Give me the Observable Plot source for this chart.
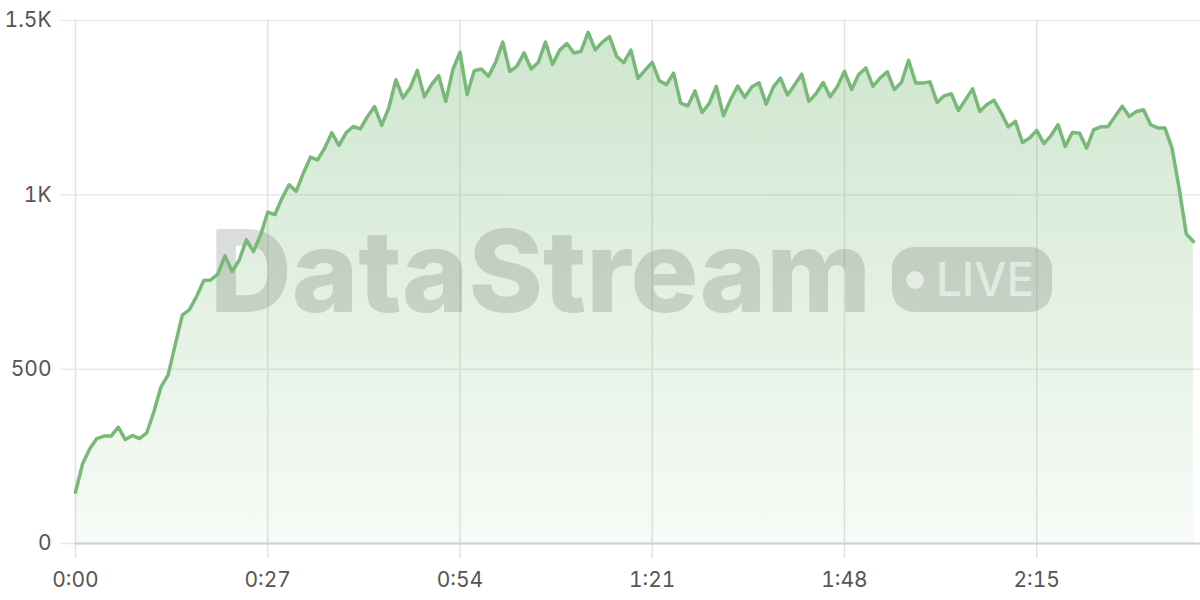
<!DOCTYPE html>
<html>
<head>
<meta charset="utf-8">
<script src="https://cdn.jsdelivr.net/npm/d3@7"></script>
<script src="https://cdn.jsdelivr.net/npm/@observablehq/plot@0.6"></script>
<style>
html, body { margin: 0; padding: 0; background: #fff; }
#chart svg { display: block; }
</style>
</head>
<body>
<div id="chart"></div>
<script>
// One sample per second, starting at 0:00
const values = [
  147, 229, 272, 301, 308, 308, 334, 298, 310, 301,
  317, 377, 449, 483, 569, 655, 671, 708, 754, 756,
  773, 825, 780, 813, 871, 837, 885, 950, 943, 990,
  1029, 1010, 1062, 1108, 1100, 1134, 1178, 1142, 1178, 1196,
  1189, 1224, 1253, 1199, 1249, 1330, 1278, 1307, 1357, 1281,
  1316, 1342, 1268, 1359, 1409, 1287, 1356, 1361, 1340, 1380,
  1438, 1354, 1369, 1407, 1361, 1380, 1438, 1374, 1415, 1434,
  1407, 1412, 1466, 1416, 1438, 1454, 1397, 1379, 1415, 1334,
  1358, 1380, 1327, 1316, 1349, 1263, 1255, 1298, 1236, 1262,
  1311, 1227, 1273, 1312, 1280, 1310, 1321, 1260, 1309, 1335,
  1286, 1316, 1346, 1268, 1290, 1322, 1281, 1311, 1354, 1302,
  1345, 1364, 1311, 1335, 1353, 1302, 1322, 1386, 1321, 1321,
  1324, 1265, 1284, 1290, 1242, 1273, 1304, 1239, 1259, 1271,
  1235, 1195, 1211, 1150, 1163, 1185, 1147, 1170, 1201, 1139,
  1179, 1177, 1134, 1187, 1195, 1195, 1225, 1254, 1225, 1239,
  1244, 1201, 1192, 1192, 1134, 1019, 888, 866
];
const xTicks = [0, 27, 54, 81, 108, 135];
const xTickLabels = ["0:00", "0:27", "0:54", "1:21", "1:48", "2:15"];
const yTicks = [0, 500, 1000, 1500];
const yTickLabels = ["0", "500", "1K", "1.5K"];
const watermarkTitle = "DataStream";
const watermarkBadge = "LIVE";

const data = values.map((v, i) => ({ t: i, v }));
const NS = "http://www.w3.org/2000/svg";
function el(tag, attrs) {
  const e = document.createElementNS(NS, tag);
  for (const k in attrs) e.setAttribute(k, attrs[k]);
  return e;
}

function gradientDefs() {
  const defs = el("defs", {});
  const lg = el("linearGradient", { id: "areaGrad", x1: 0, y1: 0, x2: 0, y2: 1 });
  lg.appendChild(el("stop", { offset: "0%", "stop-color": "#78b978", "stop-opacity": 0.36 }));
  lg.appendChild(el("stop", { offset: "100%", "stop-color": "#78b978", "stop-opacity": 0.06 }));
  defs.appendChild(lg);
  return defs;
}

function watermark(index, scales, vals, dims) {
  const g = el("g", { "pointer-events": "none", "text-anchor": "start" });
  const L = dims.marginLeft, T = dims.marginTop;
  const fillC = "rgba(85,100,85,0.22)";
  const t = el("text", {
    x: L + 135, y: T + 292, "text-anchor": "start",
    "font-family": "Inter, 'Open Sans', sans-serif", "font-weight": 800, "font-size": 114,
    fill: fillC, textLength: 661, lengthAdjust: "spacingAndGlyphs"
  });
  t.textContent = watermarkTitle;
  g.appendChild(t);
  g.appendChild(el("rect", { x: L + 817, y: T + 227, width: 160, height: 65, rx: 22, fill: fillC }));
  g.appendChild(el("circle", { cx: L + 840, cy: T + 260, r: 9, fill: "rgba(255,255,255,0.55)" }));
  const b = el("text", {
    x: L + 861, y: T + 276, "text-anchor": "start",
    "font-family": "Inter, 'Open Sans', sans-serif", "font-weight": 500, "font-size": 46,
    fill: "rgba(255,255,255,0.55)", textLength: 98, lengthAdjust: "spacingAndGlyphs"
  });
  b.textContent = watermarkBadge;
  g.appendChild(b);
  return g;
}

const chart = Plot.plot({
  width: 1200,
  height: 600,
  marginLeft: 75,
  marginRight: 0,
  marginTop: 20,
  marginBottom: 57,
  style: { fontFamily: "Inter, sans-serif", fontSize: "21px", color: "#555", background: "#fff" },
  x: { domain: [0, 158], label: null },
  y: { domain: [0, 1500], label: null },
  marks: [
    gradientDefs,
    Plot.gridY(yTicks, { stroke: "#e8e8e8", strokeOpacity: 1, strokeWidth: 1.5, insetLeft: -15 }),
    Plot.gridX(xTicks, { stroke: "#e2e2e2", strokeOpacity: 1, strokeWidth: 1.5, insetBottom: -15 }),
    Plot.areaY(data, { x: "t", y: "v", fill: "url(#areaGrad)" }),
    Plot.ruleY([0], { stroke: "#d0d0d0", strokeWidth: 2 }),
    watermark,
    Plot.lineY(data, { x: "t", y: "v", stroke: "#78b978", strokeWidth: 3.5 }),
    Plot.axisX({ ticks: xTicks, tickFormat: d => xTickLabels[xTicks.indexOf(d)], tickSize: 0, tickPadding: 29, fill: "#555", label: null }),
    Plot.axisY({ ticks: yTicks, tickFormat: d => yTickLabels[yTicks.indexOf(d)], tickSize: 0, tickPadding: 24, fill: "#555", label: null })
  ]
});
document.getElementById("chart").appendChild(chart);
</script>
</body>
</html>
